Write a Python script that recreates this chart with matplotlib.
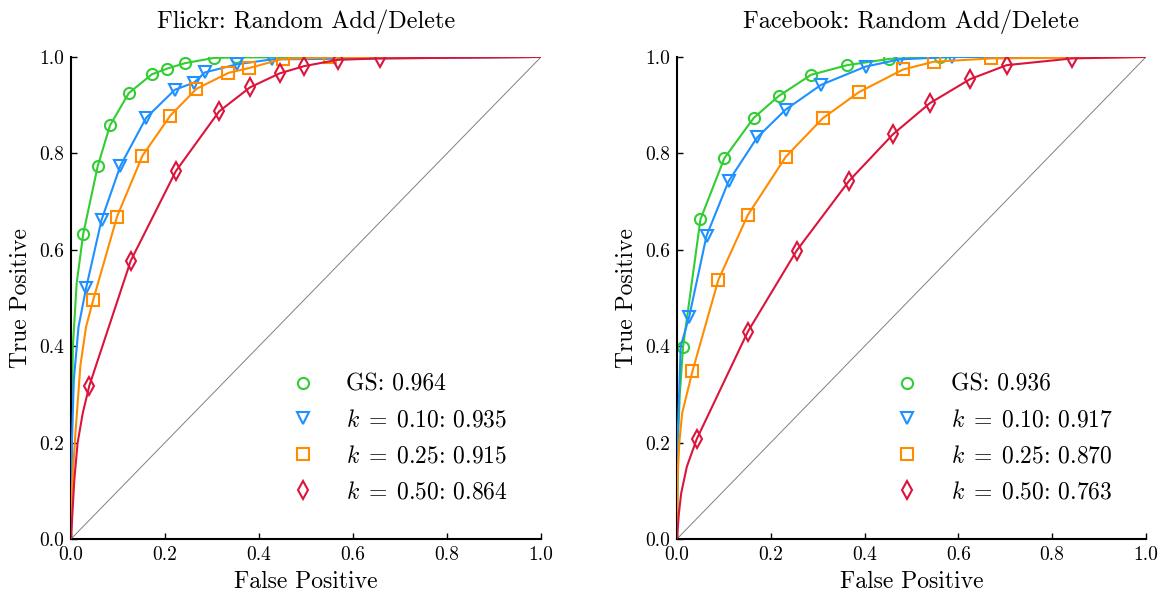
import matplotlib
matplotlib.use("Agg")
import matplotlib.pyplot as plt

# =========================
# DATA
# =========================
TITLES = ["Flickr: Random Add/Delete", "Facebook: Random Add/Delete"]
SERIES_NAMES = ["GS", r"$k\;=\;0.10$", r"$k\;=\;0.25$", r"$k\;=\;0.50$"]
FLICKR_AUC = ["0.964", "0.935", "0.915", "0.864"]
FACEBOOK_AUC = ["0.936", "0.917", "0.870", "0.763"]
TICKS = [0.0, 0.2, 0.4, 0.6, 0.8, 1.0]

# Flickr - marked points
FL_GS_FPR = [0.026, 0.057, 0.083, 0.123, 0.172, 0.205, 0.242, 0.304, 0.350]
FL_GS_TPR = [0.633, 0.774, 0.858, 0.925, 0.964, 0.976, 0.987, 0.998, 0.999]
FL_K10_FPR = [0.032, 0.065, 0.105, 0.160, 0.221, 0.262, 0.285, 0.354, 0.428]
FL_K10_TPR = [0.520, 0.662, 0.774, 0.874, 0.932, 0.947, 0.968, 0.985, 0.995]
FL_K25_FPR = [0.047, 0.098, 0.152, 0.211, 0.267, 0.335, 0.379, 0.450, 0.551]
FL_K25_TPR = [0.495, 0.669, 0.795, 0.878, 0.934, 0.967, 0.977, 0.996, 0.999]
FL_K50_FPR = [0.039, 0.127, 0.223, 0.315, 0.381, 0.444, 0.496, 0.567, 0.657]
FL_K50_TPR = [0.318, 0.577, 0.763, 0.887, 0.937, 0.966, 0.981, 0.994, 0.997]

# Flickr - curve points before the first marker
FL_GS_LEAD_FPR = [0.001, 0.004, 0.012]
FL_GS_LEAD_TPR = [0.20, 0.40, 0.53]
FL_K10_LEAD_FPR = [0.002, 0.006, 0.016]
FL_K10_LEAD_TPR = [0.20, 0.33, 0.44]
FL_K25_LEAD_FPR = [0.002, 0.008, 0.020, 0.032]
FL_K25_LEAD_TPR = [0.10, 0.20, 0.36, 0.44]
FL_K50_LEAD_FPR = [0.003, 0.007, 0.014, 0.025]
FL_K50_LEAD_TPR = [0.053, 0.122, 0.199, 0.261]

# Facebook - marked points
FB_GS_FPR = [0.013, 0.050, 0.101, 0.164, 0.217, 0.286, 0.363, 0.453, 0.561]
FB_GS_TPR = [0.399, 0.663, 0.790, 0.874, 0.919, 0.963, 0.983, 0.996, 1.000]
FB_K10_FPR = [0.026, 0.063, 0.110, 0.171, 0.232, 0.307, 0.402, 0.475, 0.587]
FB_K10_TPR = [0.461, 0.629, 0.742, 0.833, 0.891, 0.942, 0.980, 0.995, 1.000]
FB_K25_FPR = [0.033, 0.088, 0.151, 0.232, 0.311, 0.388, 0.482, 0.547, 0.670]
FB_K25_TPR = [0.348, 0.537, 0.672, 0.793, 0.873, 0.927, 0.974, 0.990, 0.997]
FB_K50_FPR = [0.042, 0.151, 0.255, 0.367, 0.461, 0.539, 0.625, 0.703, 0.843]
FB_K50_TPR = [0.207, 0.430, 0.598, 0.743, 0.840, 0.904, 0.954, 0.983, 0.997]

# Facebook - curve points before the first marker
FB_GS_LEAD_FPR = [0.002, 0.006]
FB_GS_LEAD_TPR = [0.20, 0.30]
FB_K10_LEAD_FPR = [0.001, 0.008]
FB_K10_LEAD_TPR = [0.20, 0.40]
FB_K25_LEAD_FPR = [0.001, 0.005, 0.011]
FB_K25_LEAD_TPR = [0.122, 0.20, 0.261]
FB_K50_LEAD_FPR = [0.004, 0.009, 0.021]
FB_K50_LEAD_TPR = [0.053, 0.095, 0.150]

COLORS = ["#32CD32", "#1E90FF", "#FF8C00", "#DC143C"]
MARKERS = ["o", "v", "s", "d"]

# =========================
# STYLE
# =========================
plt.rcParams["font.family"] = "serif"
plt.rcParams["font.serif"] = ["cmr10", "DejaVu Serif"]
plt.rcParams["mathtext.fontset"] = "cm"
plt.rcParams["axes.formatter.use_mathtext"] = True
plt.rcParams["axes.unicode_minus"] = False


def draw_panel(ax, title, marks, leads, aucs):
    ax.plot([0, 1], [0, 1], color="#808080", lw=0.7, zorder=1)

    for i, ((mx, my), (lx, ly)) in enumerate(zip(marks, leads)):
        cx = [0.0] + lx + mx + [1.0]
        cy = [0.0] + ly + my + [1.0]
        ax.plot(cx, cy, color=COLORS[i], lw=1.5, zorder=2 + i)
        ax.plot(mx, my, ls="none", marker=MARKERS[i], ms=8 if MARKERS[i] != "d" else 9,
                mfc="none", mec=COLORS[i], mew=1.5, zorder=2 + i,
                label=f"{SERIES_NAMES[i]}: {aucs[i]}")

    ax.set_xlim(0, 1)
    ax.set_ylim(0, 1)
    ax.set_xticks(TICKS)
    ax.set_yticks(TICKS)
    ax.set_xticklabels([f"{t:.1f}" for t in TICKS])
    ax.set_yticklabels([f"{t:.1f}" for t in TICKS])
    ax.tick_params(direction="in", length=4.5, width=1, labelsize=14, pad=5,
                   top=False, right=False)
    for side in ["top", "right"]:
        ax.spines[side].set_visible(False)
    for side in ["left", "bottom"]:
        ax.spines[side].set_linewidth(1.5)

    ax.set_xlabel("False Positive", fontsize=17, labelpad=5)
    ax.set_ylabel("True Positive", fontsize=17, labelpad=5)
    ax.set_title(title, fontsize=17.5, pad=21)
    ax.legend(loc="lower right", bbox_to_anchor=(0.975, 0.03), frameon=False,
              fontsize=17, numpoints=1, handletextpad=0.85, labelspacing=0.58)


fig = plt.figure(figsize=(11.62, 5.99), dpi=100)
ax1 = fig.add_axes([0.0611, 0.1002, 0.4045, 0.8047])
ax2 = fig.add_axes([0.5826, 0.1002, 0.4036, 0.8047])

draw_panel(ax1, TITLES[0],
           [(FL_GS_FPR, FL_GS_TPR), (FL_K10_FPR, FL_K10_TPR),
            (FL_K25_FPR, FL_K25_TPR), (FL_K50_FPR, FL_K50_TPR)],
           [(FL_GS_LEAD_FPR, FL_GS_LEAD_TPR), (FL_K10_LEAD_FPR, FL_K10_LEAD_TPR),
            (FL_K25_LEAD_FPR, FL_K25_LEAD_TPR), (FL_K50_LEAD_FPR, FL_K50_LEAD_TPR)],
           FLICKR_AUC)
draw_panel(ax2, TITLES[1],
           [(FB_GS_FPR, FB_GS_TPR), (FB_K10_FPR, FB_K10_TPR),
            (FB_K25_FPR, FB_K25_TPR), (FB_K50_FPR, FB_K50_TPR)],
           [(FB_GS_LEAD_FPR, FB_GS_LEAD_TPR), (FB_K10_LEAD_FPR, FB_K10_LEAD_TPR),
            (FB_K25_LEAD_FPR, FB_K25_LEAD_TPR), (FB_K50_LEAD_FPR, FB_K50_LEAD_TPR)],
           FACEBOOK_AUC)

fig.savefig("out.png", dpi=100)
plt.close(fig)
